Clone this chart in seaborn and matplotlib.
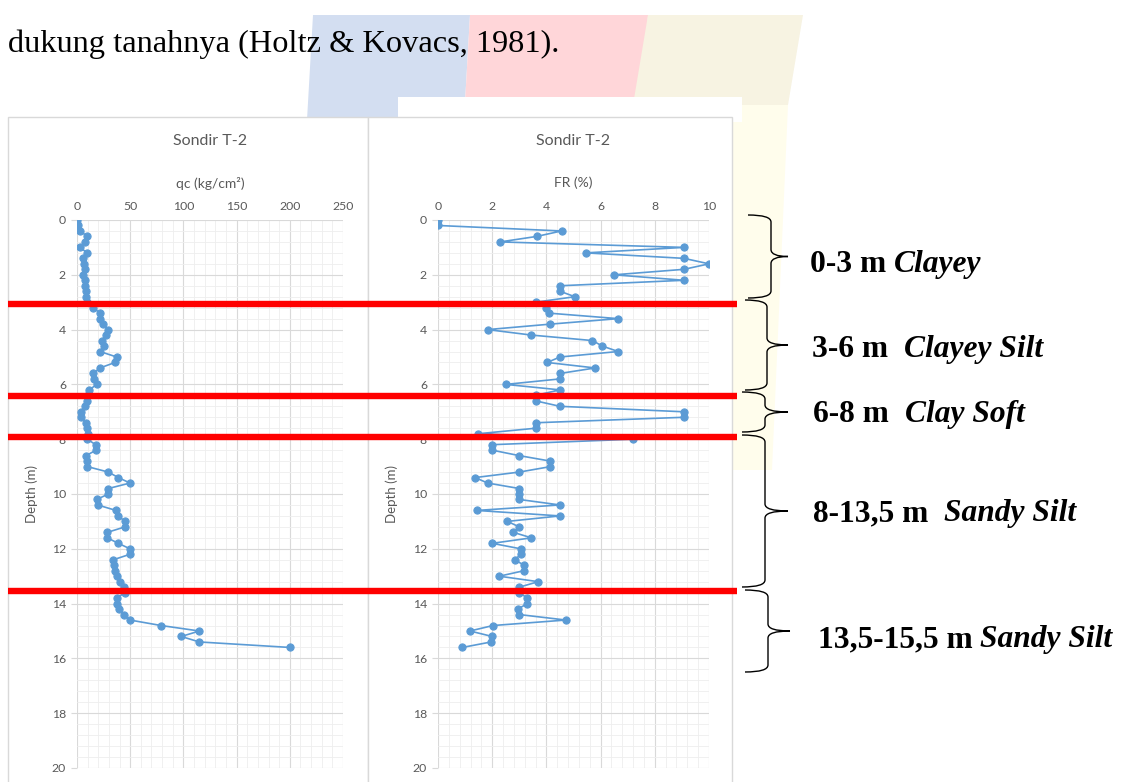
import matplotlib
matplotlib.use("Agg")
import matplotlib.pyplot as plt
import matplotlib.transforms as mtransforms
import pandas as pd
import seaborn as sns
from matplotlib.path import Path
from matplotlib.patches import PathPatch, Rectangle, Polygon
from matplotlib.ticker import MultipleLocator

# data
depth = [0.0, 0.2, 0.4, 0.6, 0.8, 1.0, 1.2, 1.4, 1.6, 1.8,
         2.0, 2.2, 2.4, 2.6, 2.8, 3.0, 3.2, 3.4, 3.6, 3.8,
         4.0, 4.2, 4.4, 4.6, 4.8, 5.0, 5.2, 5.4, 5.6, 5.8,
         6.0, 6.2, 6.4, 6.6, 6.8, 7.0, 7.2, 7.4, 7.6, 7.8,
         8.0, 8.2, 8.4, 8.6, 8.8, 9.0, 9.2, 9.4, 9.6, 9.8,
         10.0, 10.2, 10.4, 10.6, 10.8, 11.0, 11.2, 11.4, 11.6, 11.8,
         12.0, 12.2, 12.4, 12.6, 12.8, 13.0, 13.2, 13.4, 13.6, 13.8,
         14.0, 14.2, 14.4, 14.6, 14.8, 15.0, 15.2, 15.4, 15.6]
qc = [0, 0.5, 3, 9.7, 7.5, 2.8, 9.7, 6, 6.3, 7.5,
      6, 7.5, 7.5, 8, 8.5, 9.7, 15.4, 21.6, 22, 24,
      29.5, 27.2, 23.2, 25.4, 21.6, 37.3, 35.7, 21.6, 15.4, 15.7,
      18.5, 11.6, 10.6, 9.1, 7.5, 3.4, 3.8, 8.5, 9.7, 10.6,
      9.7, 17.5, 17.9, 8.5, 9.7, 9.7, 29.5, 38.8, 49.8, 29.5,
      29.5, 18.5, 19.4, 36.7, 38.8, 45.1, 45.1, 28.5, 28.5, 38.8,
      49.8, 49.8, 34.1, 35, 35.7, 37.3, 40.4, 44.2, 45, 37.3,
      37.3, 39.8, 44.2, 49.8, 79, 115, 98, 115, 200]
fr = [0, 0, 4.56, 3.64, 2.29, 9.08, 5.45, 9.08, 10.0, 9.08,
      6.5, 9.08, 4.5, 4.5, 5.05, 3.6, 4.0, 4.1, 6.65, 4.15,
      1.83, 3.45, 5.7, 6.06, 6.65, 4.5, 4.03, 5.8, 4.5, 4.5,
      2.5, 4.5, 3.6, 3.6, 4.5, 9.08, 9.08, 3.6, 3.6, 1.49,
      7.2, 2.0, 2.0, 3.0, 4.15, 4.15, 3.0, 1.37, 1.83, 3.0,
      3.0, 3.0, 4.5, 1.43, 4.5, 2.56, 3.0, 2.78, 3.45, 2.0,
      3.05, 3.05, 2.84, 3.17, 3.17, 2.26, 3.7, 3.0, 3.0, 3.3,
      3.3, 2.94, 3.0, 4.72, 2.03, 1.18, 2.0, 1.96, 0.9]

layer_bounds = [3.07, 6.42, 7.92, 13.54]
zone_depths = ["0-3 m", "3-6 m", "6-8 m", "8-13,5 m", "13,5-15,5 m"]
zone_soils = ["Clayey", "Clayey Silt", "Clay Soft", "Sandy Silt", "Sandy Silt"]

df = pd.DataFrame({"depth": depth, "qc": qc, "fr": fr})

W, H = 1121, 782
BLUE = "#5B9BD5"
GREY = "#595959"
CHART_FONT = ["Lato", "DejaVu Sans"]
DOC_FONT = ["Liberation Serif", "DejaVu Serif"]

sns.set_style("white")
plt.rcParams["font.family"] = CHART_FONT

fig = plt.figure(figsize=(W / 100, H / 100), dpi=100)

# background layer: faint watermark + the two chart frames (pixel coords)
bg = fig.add_axes([0, 0, 1, 1], zorder=-5)
bg.set_xlim(0, W)
bg.set_ylim(H, 0)
bg.axis("off")
bg.add_patch(Polygon([(313, 15), (470, 15), (452, 330), (295, 330)], color="#D3DEF1", lw=0))
bg.add_patch(Polygon([(470, 15), (648, 15), (630, 330), (452, 330)], color="#FFD6D9", lw=0))
bg.add_patch(Polygon([(648, 15), (803, 15), (788, 105), (633, 105)], color="#F7F3E2", lw=0))
bg.add_patch(Polygon([(633, 105), (788, 105), (772, 470), (618, 470)], color="#FFFDEC", lw=0))
bg.add_patch(Rectangle((398, 97), 344, 25, color="white", lw=0))
bg.add_patch(Rectangle((8, 117), 360, 700, facecolor="white", edgecolor="#D9D9D9", lw=1))
bg.add_patch(Rectangle((368, 117), 364, 700, facecolor="white", edgecolor="#D9D9D9", lw=1))


def style_axis(ax, xmax, xmajor, xminor, xlabel):
    ax.set_xlim(0, xmax)
    ax.set_ylim(20, 0)
    ax.xaxis.set_major_locator(MultipleLocator(xmajor))
    ax.xaxis.set_minor_locator(MultipleLocator(xminor))
    ax.yaxis.set_major_locator(MultipleLocator(2))
    ax.yaxis.set_minor_locator(MultipleLocator(0.4))
    ax.set_axisbelow(True)
    ax.grid(which="major", color="#D9D9D9", lw=0.8)
    ax.grid(which="minor", color="#EEEEEE", lw=0.6)
    for s in ax.spines.values():
        s.set_visible(False)
    ax.xaxis.tick_top()
    ax.tick_params(axis="x", which="major", length=0, pad=6, labelsize=8.8, labelcolor=GREY)
    ax.tick_params(axis="y", which="major", length=4, width=0.8, color="#D9D9D9", pad=4,
                   labelsize=8.8, labelcolor=GREY, left=True)
    ax.tick_params(which="minor", length=0)
    ax.set_xlabel("")
    ax.set_ylabel("Depth (m)", fontsize=9.5, color=GREY)
    ax.yaxis.set_label_coords(-0.147, 0.5)
    ax.text(0.5, 1.0675, xlabel, transform=ax.transAxes, ha="center", va="center",
            fontsize=10, color=GREY)
    ax.text(0.5, 1.144, "Sondir T-2", transform=ax.transAxes, ha="center", va="center",
            fontsize=11.5, color=GREY)


ax1 = fig.add_axes([77 / W, 1 - 768 / H, 266 / W, 548 / H])
sns.lineplot(data=df, x="qc", y="depth", sort=False, estimator=None, marker="o",
             markersize=5.2, markeredgecolor=BLUE, color=BLUE, linewidth=1.2, ax=ax1)
style_axis(ax1, 250, 50, 10, "qc (kg/cm\u00b2)")

ax2 = fig.add_axes([438 / W, 1 - 768 / H, 271 / W, 548 / H])
sns.lineplot(data=df, x="fr", y="depth", sort=False, estimator=None, marker="o",
             markersize=5.2, markeredgecolor=BLUE, color=BLUE, linewidth=1.2, ax=ax2)
style_axis(ax2, 10, 2, 0.4, "FR (%)")

# top layer: document text, layer lines, braces
top = fig.add_axes([0, 0, 1, 1], zorder=10)
top.set_xlim(0, W)
top.set_ylim(H, 0)
top.axis("off")
top.patch.set_visible(False)

top.text(8, 52, "dukung tanahnya (Holtz & Kovacs, 1981).", family=DOC_FONT,
         fontsize=23.3, va="baseline", ha="left", color="black")

blend = mtransforms.blended_transform_factory(top.transData, ax1.transData)
for b in layer_bounds:
    top.plot([8, 737], [b, b], transform=blend, color="#FF0000", lw=4.6,
             solid_capstyle="butt", clip_on=False)


def brace(ax, x_end, x_spine, x_tip, y_top, y_bot, r=7):
    y_mid = (y_top + y_bot) / 2
    verts = [(x_end, y_top), (x_spine, y_top), (x_spine, y_top + r),
             (x_spine, y_mid - r), (x_spine, y_mid), (x_tip, y_mid),
             (x_spine, y_mid), (x_spine, y_mid + r),
             (x_spine, y_bot - r), (x_spine, y_bot), (x_end, y_bot)]
    codes = [Path.MOVETO, Path.CURVE3, Path.CURVE3, Path.LINETO, Path.CURVE3, Path.CURVE3,
             Path.CURVE3, Path.CURVE3, Path.LINETO, Path.CURVE3, Path.CURVE3]
    ax.add_patch(PathPatch(Path(verts, codes), fill=False, edgecolor="black", lw=1.0))


brace_spans = [(748, 771, 788, 215, 298), (745, 767, 788, 300, 390), (742, 765, 788, 392, 432),
               (742, 765, 788, 435, 587), (745, 768, 790, 590, 672)]
for sp in brace_spans:
    brace(top, *sp)

label_pos = [(810, 272), (812, 357), (813, 422), (813, 521), (818, 647)]
label_gap = [5.5, 11.5, 12, 11, 5]
for (x, y), dtxt, soil, gap in zip(label_pos, zone_depths, zone_soils, label_gap):
    t = top.text(x, y, dtxt, family=DOC_FONT, fontweight="bold", fontsize=22.7,
                 va="baseline", ha="left", color="black")
    top.annotate(soil, xy=(1, 0), xycoords=t, xytext=(gap, 0), textcoords="offset points",
                 family=DOC_FONT, fontweight="bold", fontstyle="italic", fontsize=22.7,
                 va="bottom", ha="left", color="black")

fig.savefig("out.png", dpi=100)
